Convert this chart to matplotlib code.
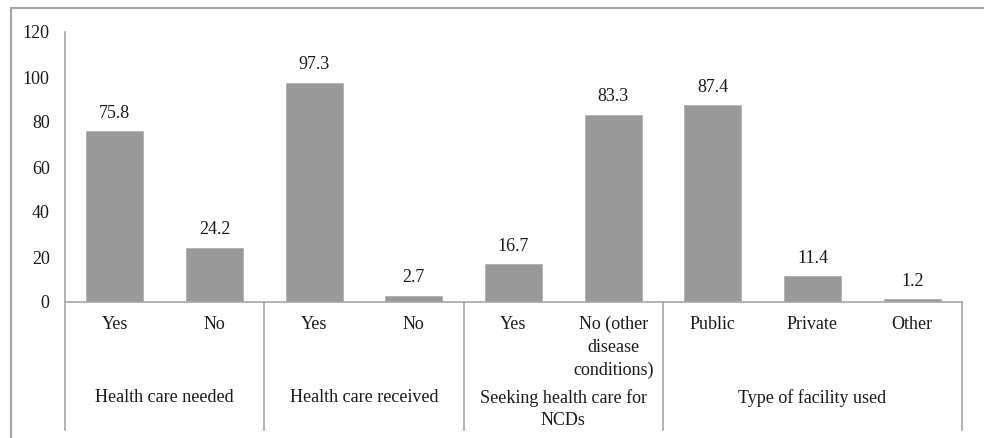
import matplotlib
matplotlib.use("Agg")
import matplotlib.pyplot as plt
from matplotlib.lines import Line2D
import matplotlib.transforms as mtransforms

categories = ["Yes", "No", "Yes", "No", "Yes", "No (other\ndisease\nconditions)",
              "Public", "Private", "Other"]
values = [75.8, 24.2, 97.3, 2.7, 16.7, 83.3, 87.4, 11.4, 1.2]
groups = ["Health care needed", "Health care received",
          "Seeking health care for\nNCDs", "Type of facility used"]
group_sizes = [2, 2, 2, 3]
yticks = [0, 20, 40, 60, 80, 100, 120]

plt.rcParams['font.family'] = ['Liberation Serif', 'DejaVu Serif']
FS = 13
GRAY = '#a6a6a6'
TXT = '#1a1a1a'

fig = plt.figure(figsize=(9.84, 4.38), dpi=100)
W, H = 984, 438
ax = fig.add_axes([65 / W, 1 - 302 / H, (962 - 65) / W, (302 - 32) / H])

x = list(range(len(values)))
ax.bar(x, values, width=0.57, color='#999999', edgecolor='#b0b0b0', linewidth=0.6, zorder=2)
for xi, v in zip(x, values):
    ax.annotate(f"{v:.1f}", (xi, v), xytext=(0, 7), textcoords='offset points',
                ha='center', va='bottom', fontsize=FS, color=TXT)

ax.set_xlim(-0.5, len(values) - 0.5)
ax.set_ylim(0, 120)
ax.set_yticks(yticks)
ax.set_yticklabels([str(t) for t in yticks], fontsize=FS, color=TXT)
ax.tick_params(axis='y', length=0, pad=11)
ax.set_xticks([])
for s in ['top', 'right']:
    ax.spines[s].set_visible(False)
for s in ['left', 'bottom']:
    ax.spines[s].set_color(GRAY)
    ax.spines[s].set_linewidth(1.2)

trans = mtransforms.blended_transform_factory(ax.transData, ax.transAxes)
def ay(py):
    return (302 - py) / 270.0

# category labels
for xi, c in zip(x, categories):
    ax.text(xi, ay(316), c, transform=trans, ha='center', va='top',
            fontsize=FS, color=TXT, linespacing=1.42)

# group separators and labels
start = -0.5
bounds = [start]
for gs in group_sizes:
    start += gs
    bounds.append(start)
for b in bounds:
    ax.plot([b, b], [0, ay(430)], transform=trans, color=GRAY, lw=1.2, clip_on=False)
for i, g in enumerate(groups):
    c = (bounds[i] + bounds[i + 1]) / 2
    ax.text(c, ay(389), g, transform=trans, ha='center', va='top',
            fontsize=FS, color=TXT, linespacing=1.42)

# outer chart border
fig.add_artist(Line2D([11 / W, 11 / W], [0, 1 - 8 / H], color=GRAY, lw=1.5, transform=fig.transFigure))
fig.add_artist(Line2D([11 / W, 1], [1 - 8 / H, 1 - 8 / H], color=GRAY, lw=1.5, transform=fig.transFigure))

fig.savefig("out.png", dpi=100)
